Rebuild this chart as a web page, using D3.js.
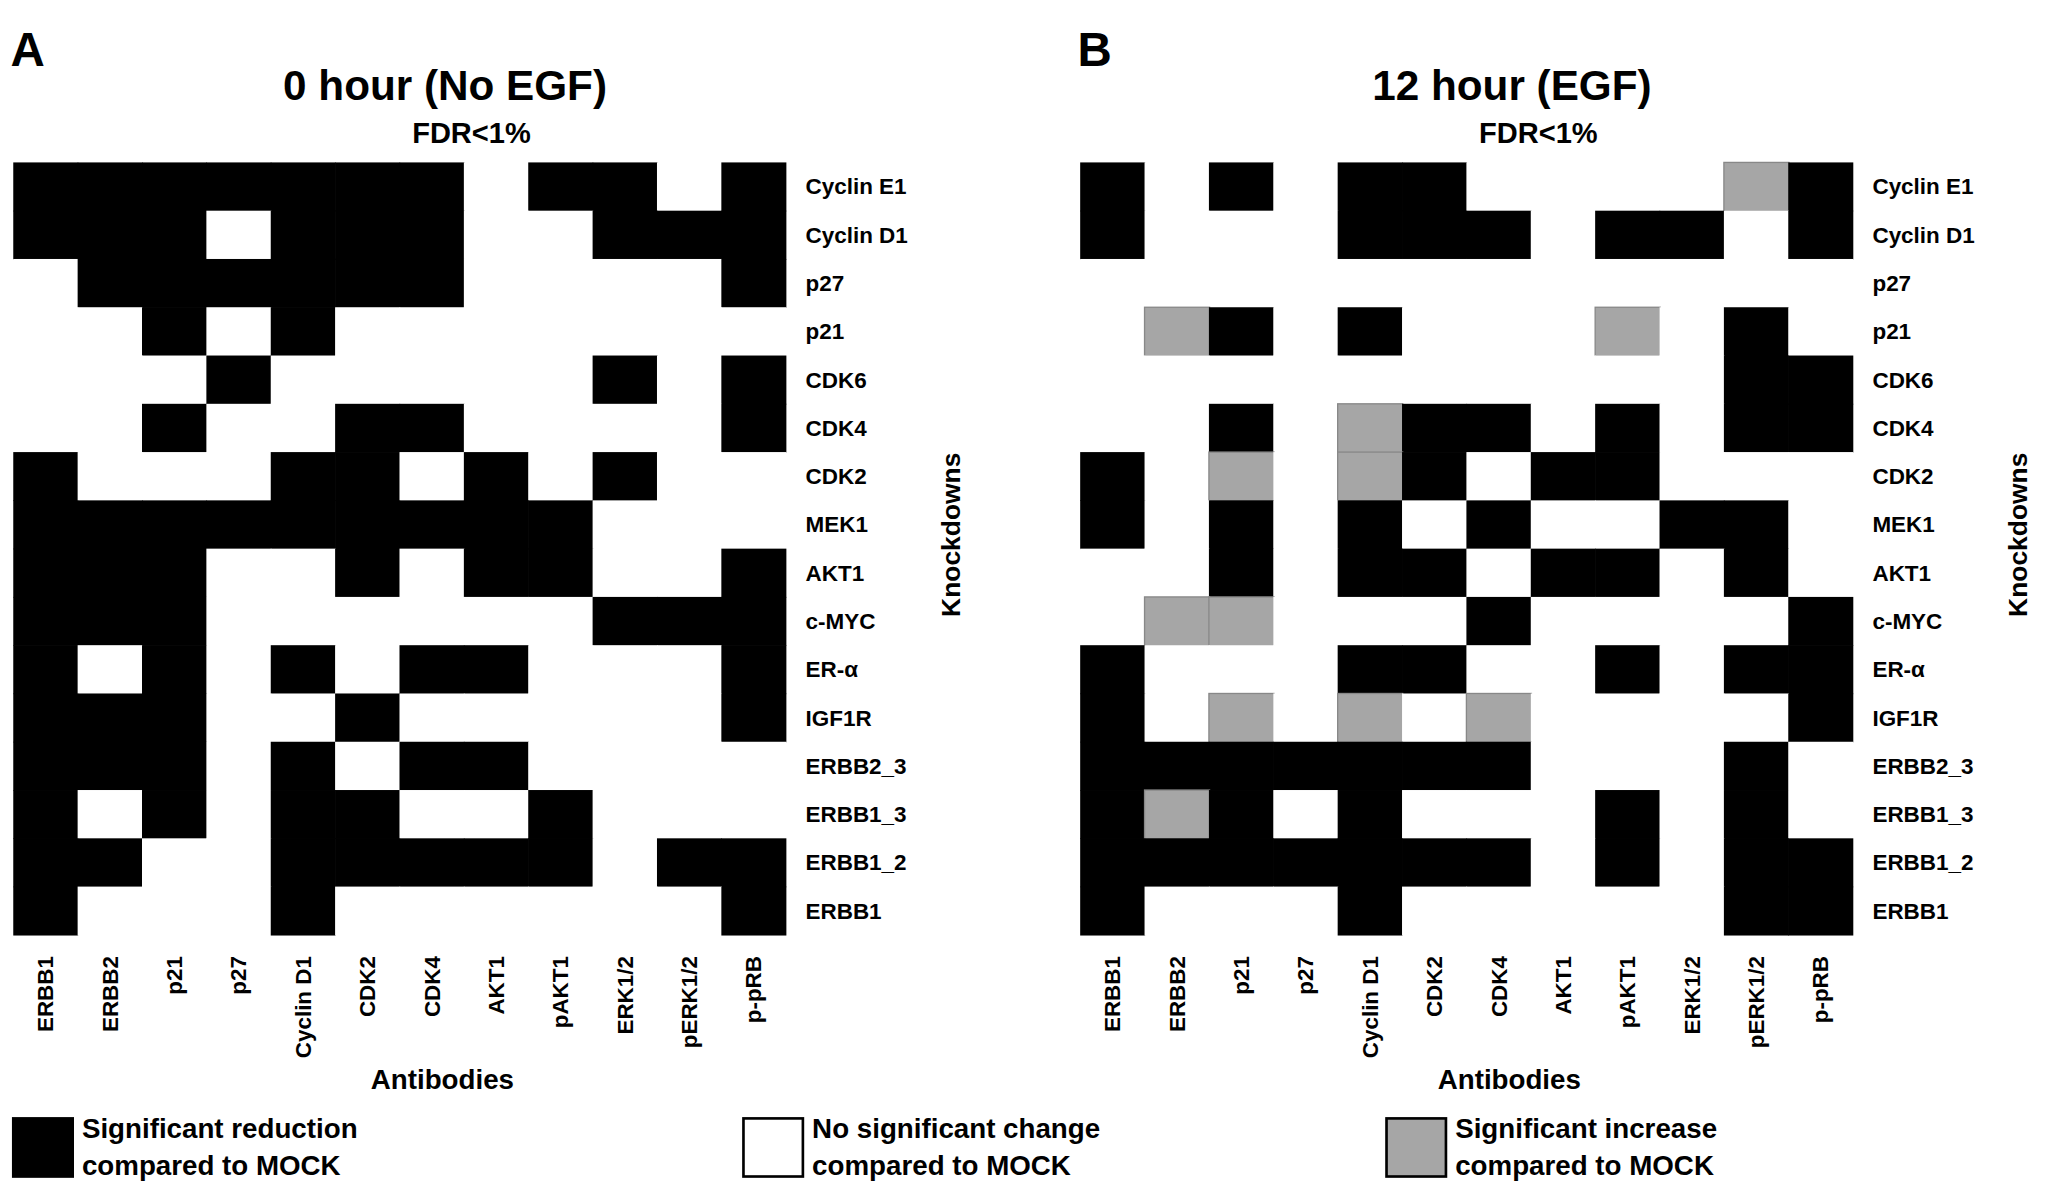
<!DOCTYPE html>
<html><head><meta charset="utf-8">
<script src="https://cdn.jsdelivr.net/npm/d3@7"></script>
<style>body{margin:0;background:#fff}text{font-family:"Liberation Sans",Arial,sans-serif;font-weight:bold}</style>
</head><body>
<svg id="chart" width="2060" height="1195" viewBox="0 0 1560 905"></svg>
<script>
var antibodies = ["ERBB1","ERBB2","p21","p27","Cyclin D1","CDK2","CDK4","AKT1","pAKT1","ERK1/2","pERK1/2","p-pRB"];
var knockdowns = ["Cyclin E1","Cyclin D1","p27","p21","CDK6","CDK4","CDK2","MEK1","AKT1","c-MYC","ER-α","IGF1R","ERBB2_3","ERBB1_3","ERBB1_2","ERBB1"];
// 1 = reduction, 0 = no change, 2 = increase
var gridA = [
  "111111101101","111011100111","011111100001","001010000000",
  "000100000101","001001100001","100011010100","111111111000",
  "111001011001","111000000111","101010110001","111001000001",
  "111010110000","101011001000","110011111011","100010000001"];
var gridB = [
  "101011000021","100011101101","000000000000","021010002010",
  "000000000011","001021101011","102021011000","101010100110",
  "001011011010","022000100001","100011001011","102020200001",
  "111111100010","121010001010","111111101011","100010000011"];
var panels = [
  {letter:"A", title:"0 hour (No EGF)", grid:gridA, x0:10},
  {letter:"B", title:"12 hour (EGF)", grid:gridB, x0:818}];
var colors = {"0":"#ffffff","1":"#000000","2":"#a6a6a6"};

var svg = d3.select("#chart");
panels.forEach(function (p) {
  var x = d3.scaleBand().domain(antibodies).range([p.x0, p.x0 + 585]);
  var y = d3.scaleBand().domain(knockdowns).range([123, 708]);
  var g = svg.append("g");
  g.append("text").attr("x", p.x0 - 2).attr("y", 50).attr("font-size", 36).text(p.letter);
  g.append("text").attr("x", p.x0 + 327).attr("y", 76).attr("font-size", 32)
    .attr("text-anchor", "middle").text(p.title);
  g.append("text").attr("x", p.x0 + 347).attr("y", 108).attr("font-size", 22)
    .attr("text-anchor", "middle").text("FDR<1%");
  var cells = [];
  p.grid.forEach(function (row, i) {
    row.split("").forEach(function (v, j) { cells.push({r: knockdowns[i], c: antibodies[j], v: v}); });
  });
  g.selectAll("rect").data(cells).enter().append("rect")
    .attr("x", function (d) { return x(d.c); })
    .attr("y", function (d) { return y(d.r); })
    .attr("width", x.bandwidth() + 0.5)
    .attr("height", y.bandwidth() + 0.5)
    .attr("fill", function (d) { return colors[d.v]; })
    .attr("stroke", function (d) { return d.v === "2" ? "#888" : "none"; })
    .attr("stroke-width", 1);
  g.selectAll(".rl").data(knockdowns).enter().append("text")
    .attr("x", p.x0 + 600).attr("y", function (d) { return y(d) + y.bandwidth() / 2 + 6; })
    .attr("font-size", 17).text(function (d) { return d; });
  g.selectAll(".cl").data(antibodies).enter().append("text")
    .attr("transform", function (d) { return "translate(" + (x(d) + x.bandwidth() / 2 + 6) + ",724) rotate(-90)"; })
    .attr("text-anchor", "end").attr("font-size", 17).text(function (d) { return d; });
  g.append("text").attr("transform", "translate(" + (p.x0 + 717) + ",405) rotate(-90)")
    .attr("text-anchor", "middle").attr("font-size", 20).text("Knockdowns");
  g.append("text").attr("x", p.x0 + 325).attr("y", 825).attr("font-size", 21)
    .attr("text-anchor", "middle").text("Antibodies");
});

var legend = [
  {fill:"#000000", lines:["Significant reduction","compared to MOCK"], x:10},
  {fill:"#ffffff", lines:["No significant change","compared to MOCK"], x:563},
  {fill:"#a6a6a6", lines:["Significant increase","compared to MOCK"], x:1050}];
legend.forEach(function (l) {
  svg.append("rect").attr("x", l.x).attr("y", 847).attr("width", 45).attr("height", 44)
    .attr("fill", l.fill).attr("stroke", "#000").attr("stroke-width", 2);
  l.lines.forEach(function (t, i) {
    svg.append("text").attr("x", l.x + 52).attr("y", 862 + i * 28).attr("font-size", 21).text(t);
  });
});
</script>
</body></html>
